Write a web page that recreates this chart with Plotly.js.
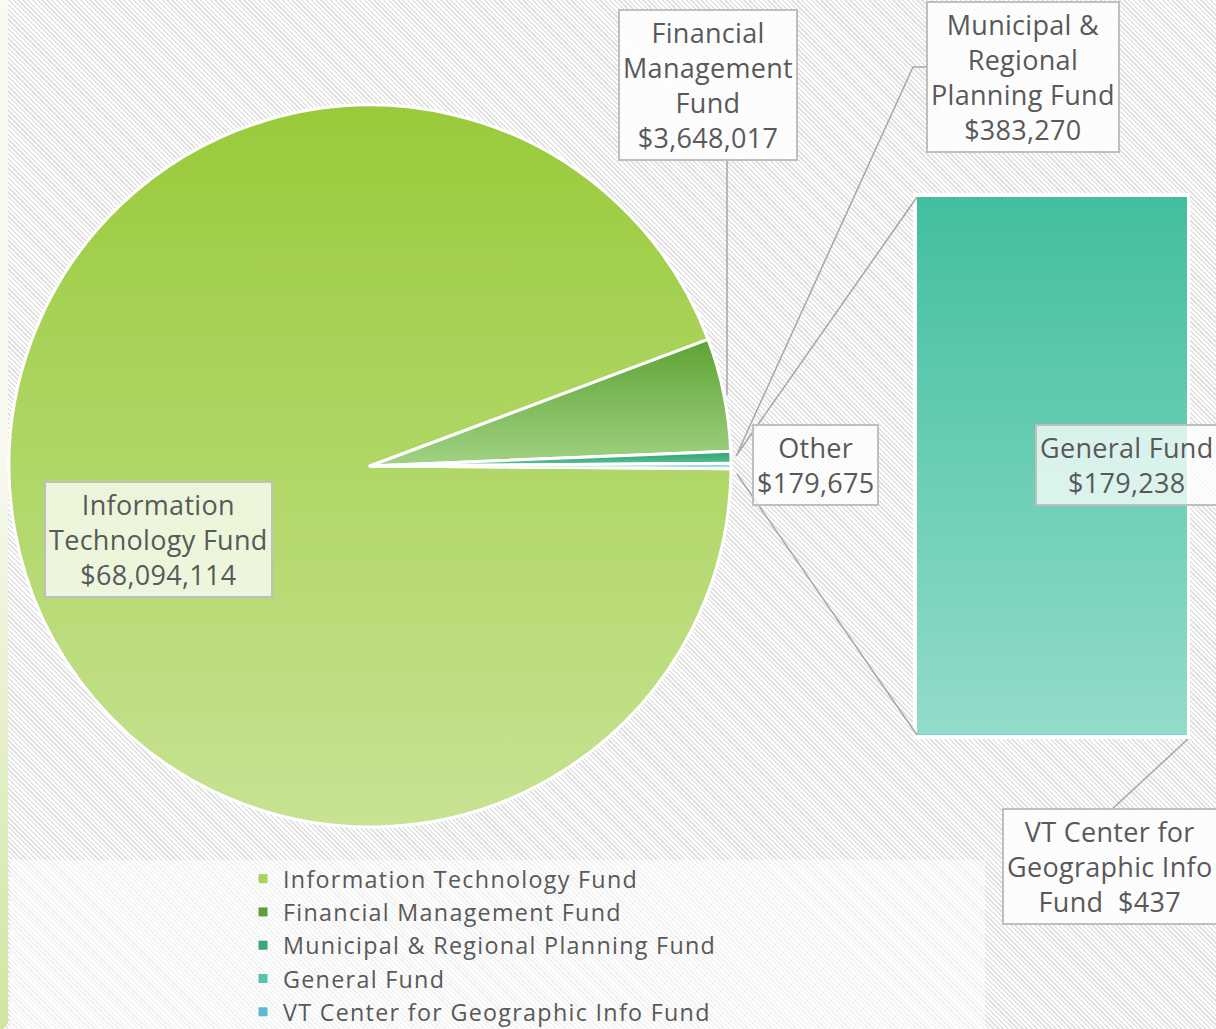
<!DOCTYPE html>
<html><head><meta charset="utf-8">
<script src="https://cdn.plot.ly/plotly-3.0.1.min.js"></script>
<style>
html,body{margin:0;padding:0;width:1216px;height:1029px;overflow:hidden;}
body{background:repeating-linear-gradient(45deg,#ffffff 0px,#ffffff 1.7px,#e3e3e3 1.7px,#e3e3e3 3.4px);}
#strip{position:absolute;left:0;top:0;width:8px;height:1029px;background:linear-gradient(#f9faf3 0%,#f7f9ee 45%,#e6f0cc 70%,#d1e5a0 100%);border-bottom-right-radius:8px;}
#chart{position:absolute;left:0;top:0;width:1216px;height:1029px;}
.legendtext{letter-spacing:1.3px;}
.annotation-text{letter-spacing:0.3px;}
</style></head><body>
<div id="strip"></div><div id="chart"></div>
<script>
// ---- data ----
const fundNames = ['Information Technology Fund','Financial Management Fund','Municipal & Regional Planning Fund','General Fund','VT Center for Geographic Info Fund'];
const fundValues = [68094114, 3648017, 383270, 179238, 437];
const wrappedNames = ['Information<br>Technology Fund','Financial<br>Management<br>Fund','Municipal &<br>Regional<br>Planning Fund','General Fund','VT Center for<br>Geographic Info<br>Fund\u00a0'];
const otherLabel = 'Other';
const legendColors = ['#a8d35c','#5f9f3a','#3aa878','#55c6aa','#5db8d6'];

// pie: first three funds + "Other" (General + VT)
const otherValue = fundValues[3] + fundValues[4];
const pieLabels = [fundNames[0], fundNames[1], fundNames[2], otherLabel];
const pieValues = [fundValues[0], fundValues[1], fundValues[2], otherValue];
const pieColors = ['#b3da72','#7fbb5a','#3aa878','#9ed8ec'];
const total = pieValues.reduce((a,b)=>a+b,0);

const fmt = v => '$' + v.toLocaleString('en-US');

const W = 1216, H = 1029;
const px = x => x / W, py = y => 1 - y / H;

const FONT = '"Open Sans", Lato, sans-serif';
const TXT = '#595959';

const data = [];
data.push({
  type:'pie', labels:pieLabels, values:pieValues, sort:false, direction:'clockwise',
  rotation: 90 + (otherValue/total)*180,
  textinfo:'none', hoverinfo:'none', showlegend:false,
  marker:{colors:pieColors, line:{color:'#ffffff', width:3}},
  domain:{x:[px(9), px(731)], y:[py(827), py(105)]}
});
// bar of "Other": VT at bottom, General on top
data.push({type:'bar', x:[otherLabel], y:[fundValues[4]], name:fundNames[4], marker:{color:'#7fcfe6', line:{width:0}}, width:1, xaxis:'x2', yaxis:'y2', showlegend:false, hoverinfo:'none'});
data.push({type:'bar', x:[otherLabel], y:[fundValues[3]], name:fundNames[3], marker:{color:'#6acfb6', line:{width:0}}, width:1, xaxis:'x2', yaxis:'y2', showlegend:false, hoverinfo:'none'});
// legend entries
fundNames.forEach((n,i)=>{
  data.push({type:'scatter', mode:'markers', x:[null], y:[null], name:n, xaxis:'x2', yaxis:'y2',
    marker:{symbol:'square', size:9, color:legendColors[i]}, hoverinfo:'none'});
});

const boxStyle = {font:{family:FONT, size:27, color:TXT}, bordercolor:'#bfbfbf', borderwidth:2, borderpad:3,
  bgcolor:'rgba(255,255,255,0.82)', xref:'paper', yref:'paper', xanchor:'center', yanchor:'middle', showarrow:false, align:'center'};
const ann = (x,y,text,extra) => Object.assign({}, boxStyle, {x:px(x), y:py(y), text:text}, extra||{});

const annotations = [
  ann(158, 539, wrappedNames[0] + '<br>' + fmt(fundValues[0]), {bgcolor:'rgba(255,255,255,0.75)'}),
  ann(708, 85, wrappedNames[1] + '<br>' + fmt(fundValues[1])),
  ann(1023, 77, wrappedNames[2] + '<br>' + fmt(fundValues[2])),
  ann(815, 465, otherLabel + '<br>' + fmt(otherValue), {bgcolor:'rgba(255,255,255,0.78)'}),
  ann(1127, 465, wrappedNames[3] + '<br>' + fmt(fundValues[3]), {bgcolor:'rgba(255,255,255,0.75)'}),
  ann(1110, 866, wrappedNames[4] + ' ' + fmt(fundValues[4]))
];

const lineStyle = {color:'#a6a6a6', width:1.5};
const seg = (x0,y0,x1,y1) => ({type:'line', xref:'paper', yref:'paper', x0:px(x0), y0:py(y0), x1:px(x1), y1:py(y1), line:lineStyle});
const shapes = [
  {type:'rect', xref:'paper', yref:'paper', x0:px(10), x1:px(985), y0:py(1029), y1:py(860), fillcolor:'rgba(255,255,255,0.55)', line:{width:0}, layer:'below'},
  {type:'rect', xref:'paper', yref:'paper', x0:px(913), x1:px(1190), y0:py(739), y1:py(193), fillcolor:'#ffffff', line:{width:0}, layer:'below'},
  seg(727,158,727,395),
  seg(928,67,913,67), seg(913,67,738,452),
  seg(736,456,917,197),
  seg(737,474,917,735),
  seg(1110,811,1188,739)
];

const layout = {
  width:W, height:H, margin:{l:0,r:0,t:0,b:0, autoexpand:false},
  paper_bgcolor:'rgba(0,0,0,0)', plot_bgcolor:'rgba(0,0,0,0)',
  barmode:'stack', bargap:0,
  xaxis2:{domain:[px(917), px(1187)], range:[-0.5,0.5], type:'category', visible:false, anchor:'y2', fixedrange:true},
  yaxis2:{domain:[py(735), py(197)], range:[0, otherValue], visible:false, anchor:'x2', fixedrange:true},
  showlegend:true,
  legend:{x:px(243), xanchor:'left', y:py(857), yanchor:'top', bgcolor:'rgba(0,0,0,0)',
    font:{family:FONT, size:23.3, color:TXT}, traceorder:'normal', tracegroupgap:0},
  annotations:annotations, shapes:shapes
};

Plotly.newPlot('chart', data, layout, {staticPlot:true, displayModeBar:false}).then(gd=>{
  const ns = 'http://www.w3.org/2000/svg';
  const svg = gd.querySelector('.main-svg');
  const defs = document.createElementNS(ns,'defs');
  svg.insertBefore(defs, svg.firstChild);
  function grad(id, c1, c2){
    const g = document.createElementNS(ns,'linearGradient');
    g.setAttribute('id',id); g.setAttribute('x1','0'); g.setAttribute('y1','0'); g.setAttribute('x2','0'); g.setAttribute('y2','1');
    [[0,c1],[1,c2]].forEach(([o,c])=>{const s=document.createElementNS(ns,'stop'); s.setAttribute('offset',o); s.setAttribute('stop-color',c); g.appendChild(s);});
    defs.appendChild(g); return 'url(#'+id+')';
  }
  const sliceGrads = [grad('g0','#99ca3a','#c7e393'), grad('g1','#5ea334','#a0d283'), grad('g2','#2f9f6e','#5cc49a'), grad('g3','#7ccde8','#bfe6f4')];
  gd.querySelectorAll('.pielayer .slice path.surface').forEach((p,i)=>{ if(sliceGrads[i]) p.style.fill = sliceGrads[i]; });
  const bars = gd.querySelectorAll('.barlayer .trace');
  if(bars[1]) bars[1].querySelectorAll('path').forEach(p=>{ p.style.fill = grad('gb','#42bf9f','#92dcca'); });
});
</script>
</body></html>
